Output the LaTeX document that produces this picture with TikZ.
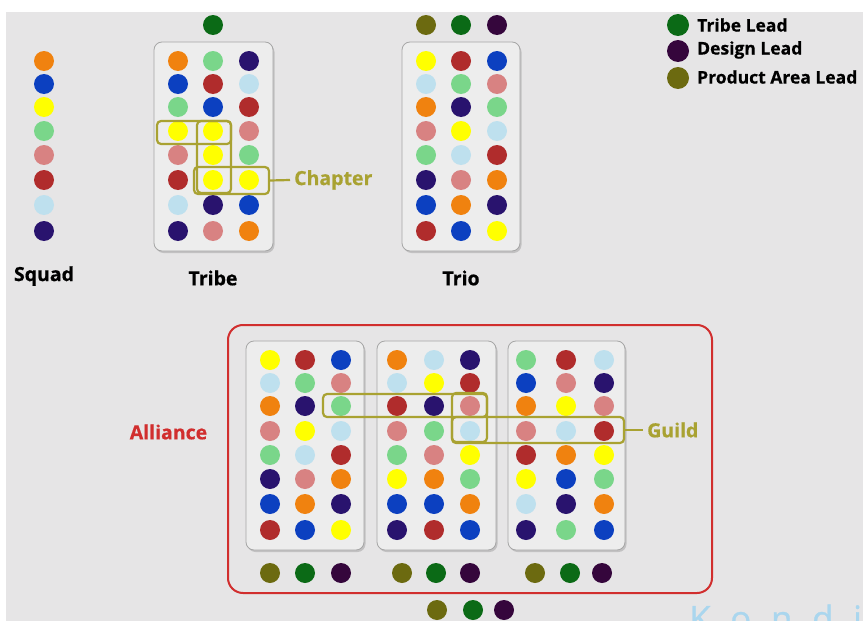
\documentclass[tikz,border=0pt]{standalone}
\usepackage{fontspec}
\setmainfont{Open Sans}
\newfontfamily\lblfont[FakeBold=0.6]{Open Sans}
\newfontfamily\wmfont[LetterSpace=56,FakeBold=0.8]{Open Sans}
\usetikzlibrary{shadows}
\definecolor{bgc}{HTML}{E6E5E6}
\definecolor{panelc}{HTML}{EDEDED}
\definecolor{cO}{HTML}{F0820F}
\definecolor{cB}{HTML}{0C40C0}
\definecolor{cY}{HTML}{FFFF00}
\definecolor{cG}{HTML}{7AD68A}
\definecolor{cP}{HTML}{D88282}
\definecolor{cR}{HTML}{B02C2C}
\definecolor{cL}{HTML}{BEE0EE}
\definecolor{cN}{HTML}{29136E}
\definecolor{lG}{HTML}{0B6A16}
\definecolor{lD}{HTML}{35063C}
\definecolor{lO}{HTML}{6C6A10}
\definecolor{hlc}{HTML}{A9A232}
\definecolor{alr}{HTML}{D12E2E}
\definecolor{wmc}{HTML}{AAD6EE}
\tikzset{
  dot/.style={circle, minimum size=20pt, inner sep=0pt, fill=#1},
  ldot/.style={circle, minimum size=22pt, inner sep=0pt, fill=#1},
  panel/.style={draw=black!35, line width=0.8pt, fill=panelc, rounded corners=8pt,
    drop shadow={opacity=0.35, shadow xshift=1.5pt, shadow yshift=-2pt}},
  hlbox/.style={draw=hlc, line width=2.2pt, rounded corners=4pt, inner sep=0pt},
  hlline/.style={draw=hlc, line width=2.2pt},
  lbl/.style={font=\lblfont\bfseries\fontsize{19.5}{22}\selectfont, inner sep=0pt},
  leg/.style={font=\lblfont\bfseries\fontsize{17.5}{20}\selectfont, inner sep=0pt, anchor=west},
}
\newcommand\dotpanel[5]{%
  \foreach \y/\a/\b/\cc [count=\i] in {#5} {
    \node[dot=\a] (#1\i-1) at (#2,\y) {};
    \node[dot=\b] (#1\i-2) at (#3,\y) {};
    \node[dot=\cc] (#1\i-3) at (#4,\y) {};
  }}
\begin{document}
\begin{tikzpicture}[x=1pt,y=-1pt]
\useasboundingbox (0,0) rectangle (863,621);
\fill[white] (0,0) rectangle (863,621);
\fill[bgc] (6,12) rectangle (863,621);

% Squad
\foreach \y/\c [count=\i] in {61/cO,84/cB,107/cY,131/cG,155/cP,180/cR,205/cL,231/cN}
  \node[dot=\c] (sq\i) at (44,\y) {};
\node[lbl] (squad) at (44,276) {Squad};

% Tribe
\node[panel, minimum width=119pt, minimum height=209pt] (tribe) at (213.5,146.5) {};
\dotpanel{t}{178}{213}{249}{61/cO/cG/cN,84/cB/cR/cL,107/cG/cB/cR,131/cY/cY/cP,155/cP/cY/cG,180/cR/cY/cY,205/cL/cN/cB,231/cN/cP/cO}
\node[dot=lG] (tlead) at (213,25) {};
\node[lbl] (tribelbl) at (213,278) {Tribe};
\node[hlbox, minimum width=74pt, minimum height=23pt] (ch1) at (194,132.5) {};
\node[hlbox, minimum width=34pt, minimum height=72pt] (ch2) at (214,157) {};
\node[hlbox, minimum width=75pt, minimum height=27pt] (ch3) at (231.5,180.5) {};
\node[lbl, text=hlc, anchor=west] (chap) at (294,180) {Chapter};
\draw[hlline] (ch3.east) -- (chap.west -| 290,0);

% Trio
\node[panel, minimum width=118pt, minimum height=209pt] (trio) at (461,146.5) {};
\dotpanel{r}{426}{461}{497}{61/cY/cR/cB,84/cL/cG/cP,107/cO/cN/cG,131/cP/cY/cL,155/cG/cL/cR,180/cN/cP/cO,205/cB/cO/cN,231/cR/cB/cY}
\node[dot=lO] (rl1) at (426,25) {};
\node[dot=lG] (rl2) at (461,25) {};
\node[dot=lD] (rl3) at (497,25) {};
\node[lbl] (triolbl) at (461,278) {Trio};

% Legend
\node[ldot=lG] (lg1) at (678,25) {};
\node[ldot=lD] (lg2) at (678,51) {};
\node[ldot=lO] (lg3) at (678,78) {};
\node[leg] (lt1) at (697,25) {Tribe Lead};
\node[leg] (lt2) at (697,50) {Design Lead};
\node[leg] (lt3) at (697,77) {Product Area Lead};

% Alliance
\draw[alr, line width=2pt, rounded corners=15pt] (228,325) rectangle (712,593);
\node[lbl, text=alr] (alliance) at (168.5,432) {Alliance};
\node[panel, minimum width=118pt, minimum height=209pt] (pa) at (305,445.5) {};
\node[panel, minimum width=119pt, minimum height=209pt] (pb) at (436.5,445.5) {};
\node[panel, minimum width=117pt, minimum height=209pt] (pc) at (566.5,445.5) {};
\dotpanel{a}{270}{305}{341}{360/cY/cR/cB,383/cL/cG/cP,406/cO/cN/cG,431/cP/cY/cL,455/cG/cL/cR,479/cN/cP/cO,504/cB/cO/cN,530/cR/cB/cY}
\dotpanel{b}{397}{434}{470}{360/cO/cL/cN,383/cL/cY/cR,406/cR/cN/cP,431/cP/cG/cL,455/cG/cP/cY,479/cY/cO/cG,504/cB/cB/cO,530/cN/cR/cB}
\dotpanel{c}{526}{566}{604}{360/cG/cR/cL,383/cB/cP/cN,406/cO/cY/cP,431/cP/cL/cR,455/cR/cO/cY,479/cY/cB/cG,504/cL/cN/cO,530/cN/cG/cB}
\node[dot=lO] (al1) at (270,573) {};
\node[dot=lG] (al2) at (305,573) {};
\node[dot=lD] (al3) at (341,573) {};
\node[dot=lO] (bl1) at (402,573) {};
\node[dot=lG] (bl2) at (436,573) {};
\node[dot=lD] (bl3) at (470,573) {};
\node[dot=lO] (cl1) at (535,573) {};
\node[dot=lG] (cl2) at (570,573) {};
\node[dot=lD] (cl3) at (602,573) {};
\node[dot=lO] (xl1) at (437,610) {};
\node[dot=lG] (xl2) at (473,610) {};
\node[dot=lD] (xl3) at (504,610) {};

% Guild
\node[hlbox, minimum width=164pt, minimum height=23pt] (g1) at (405,405.5) {};
\node[hlbox, minimum width=35pt, minimum height=49pt] (g2) at (469.5,417.5) {};
\node[hlbox, minimum width=172pt, minimum height=26pt] (g3) at (538,430) {};
\node[lbl, text=hlc, anchor=west] (guild) at (647,430) {Guild};
\draw[hlline] (g3.east) -- (guild.west -| 643,0);

% Watermark
\node[font=\wmfont\fontsize{35}{40}\selectfont, text=wmc, inner sep=0pt, anchor=base west] (wm) at (689,631) {Kondig};
\end{tikzpicture}
\end{document}
